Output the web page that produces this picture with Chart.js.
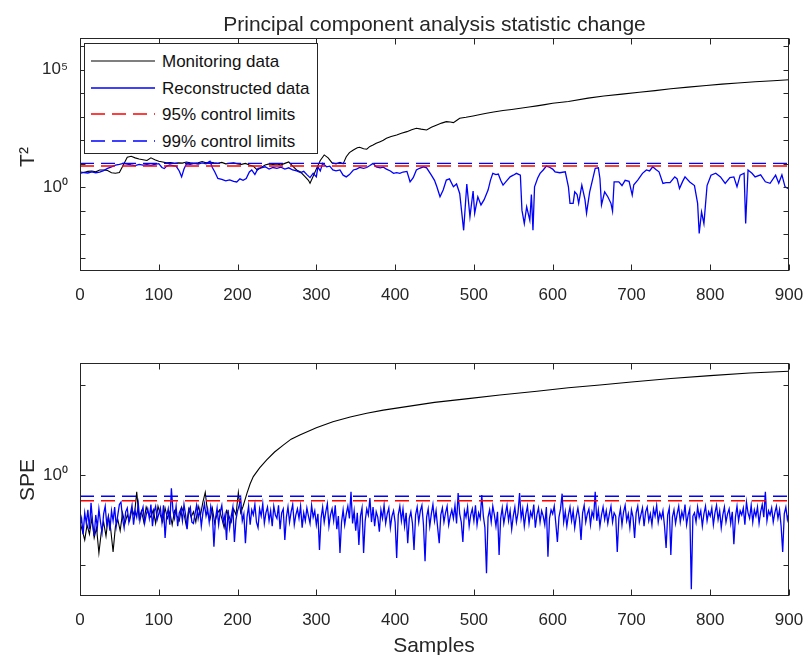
<!DOCTYPE html>
<html><head><meta charset="utf-8">
<script src="https://cdn.jsdelivr.net/npm/chart.js@4.4.0/dist/chart.umd.min.js"></script>
<style>
html,body{margin:0;padding:0;background:#fff;}
body{width:807px;height:655px;position:relative;overflow:hidden;font-family:"Liberation Sans",Arial,Helvetica,sans-serif;color:#262626;}
canvas{position:absolute;left:0;}
#c1{top:0;} #c2{top:320px;}
.txt{position:absolute;white-space:nowrap;line-height:1;}
.lg{position:absolute;white-space:nowrap;line-height:1;font-size:17px;color:#111;left:162px;}
</style></head><body>
<canvas id="c1" width="807" height="320"></canvas>
<canvas id="c2" width="807" height="335"></canvas>
<div class="txt" style="left:0;width:869px;text-align:center;top:12.9px;font-size:21px;">Principal component analysis statistic change</div>
<div class="txt" style="left:26px;top:157px;font-size:21px;transform:translate(-50%,-50%) rotate(-90deg);">T²</div>
<div class="txt" style="left:26px;top:480px;font-size:21px;transform:translate(-50%,-50%) rotate(-90deg);">SPE</div>
<div class="txt" style="left:0;width:868px;text-align:center;top:634px;font-size:21px;">Samples</div>
<div style="position:absolute;left:84px;top:43px;width:234px;height:111px;border:1px solid #262626;background:#fff;box-sizing:border-box;"></div>
<svg style="position:absolute;left:0;top:0;" width="807" height="200">
  <line x1="91" y1="61" x2="155" y2="61" stroke="#000" stroke-width="1.2"/>
  <line x1="91" y1="88" x2="155" y2="88" stroke="#0000ff" stroke-width="1.3"/>
  <line x1="91" y1="114" x2="155" y2="114" stroke="#ff0000" stroke-width="1.4" stroke-dasharray="14,7"/>
  <line x1="91" y1="141" x2="155" y2="141" stroke="#0000ff" stroke-width="1.4" stroke-dasharray="14,7"/>
</svg>
<div class="lg" style="top:52.7px;">Monitoring data</div>
<div class="lg" style="top:79.7px;">Reconstructed data</div>
<div class="lg" style="top:105.7px;">95% control limits</div>
<div class="lg" style="top:132.7px;">99% control limits</div>
<script>
// ---------- DATA ----------
const xTicks = [0,100,200,300,400,500,600,700,800,900];
const t2TickValues = [1e-3,1e-2,1e-1,1,10,100,1e3,1e4,1e5,1e6];
const t2TickLabels = {1:'10⁰', 100000:'10⁵'};
const speTickValues = [0.1,1,10];
const speTickLabels = {1:'10⁰'};
const t2Limit95 = 8.1, t2Limit99 = 10.5;
const speLimit95 = 0.518, speLimit99 = 0.58;

// T2 monitoring data [sample, value]
const t2Monitoring = [[0,4.5],[5,4.3],[10,4.8],[15,5.0],[20,4.6],[25,5.5],[30,5.5],[35,5.2],[40,4.2],[45,4.0],[50,4.3],[55,9],[60,19],[65,21],[70,18],[75,16],[80,15],[85,14],[90,18],[95,15],[100,13],[105,12],[110,11],[115,11.5],[120,10.5],[125,11],[130,10.8],[135,12],[140,11],[145,10.5],[150,11],[155,12.5],[160,11],[165,12],[170,11],[175,10.5],[180,11.5],[185,10],[190,10.5],[195,11],[200,10],[205,9.5],[210,10.5],[215,9],[220,8],[225,5.5],[230,7],[235,9],[240,10],[245,9.5],[250,10],[255,9],[260,10.5],[265,12],[270,8],[275,5.5],[280,4.5],[285,3],[290,2],[292,1.5],[295,2.5],[300,6],[305,14],[310,24],[315,18],[320,11],[325,10],[330,11.5],[334,10],[338,20],[342,30],[347,39],[352,48],[355,51],[360,44],[364,42],[368,55],[372,63],[376,75],[381,88],[385,100],[389,122],[395,145],[402,169],[408,200],[415,234],[421,280],[427,326],[433,300],[440,276],[446,360],[453,451],[459,540],[465,624],[470,600],[474,565],[478,700],[482,871],[490,960],[499,1090],[508,1250],[516,1420],[525,1600],[537,1840],[548,2050],[559,2320],[570,2600],[580,2910],[590,3300],[600,3790],[620,4500],[645,6200],[665,7600],[688,9180],[710,11000],[730,13000],[750,15500],[772,18200],[795,21500],[815,24500],[835,27500],[857,30700],[880,34000],[900,37300]];

// T2 reconstructed data [sample, value]
const t2Reconstructed = [[0,3.9],[5,4.3],[10,4.1],[15,4.6],[20,4.2],[25,4.5],[30,5.2],[35,6.4],[40,7.5],[45,8.9],[50,9.5],[55,10.4],[60,9.8],[65,9],[70,8.5],[75,9.5],[80,8.8],[85,9.2],[90,8.6],[95,9.5],[100,10.2],[104,7],[107,6.3],[110,8],[114,9],[118,8.5],[122,8],[126,5],[129,2.8],[132,6],[135,10],[140,9.5],[145,10.5],[150,9.8],[155,11],[160,10],[165,13],[168,7],[171,4.6],[175,2.4],[180,2.2],[185,1.9],[190,2.1],[195,1.8],[199,1.7],[203,2.3],[207,2.0],[211,2.4],[215,4.5],[218,5.5],[222,3.5],[226,6.4],[230,6.8],[235,7.5],[240,6],[245,7],[250,6.5],[255,7.2],[260,6],[265,6.8],[270,5.5],[275,5],[280,4.3],[284,4.8],[288,3.5],[292,2.6],[296,4],[300,2.8],[302,7.5],[305,5],[308,10.5],[313,7.5],[317,8],[321,5.5],[325,5],[330,5.5],[334,3.3],[338,2.8],[342,3.5],[347,5.5],[351,6],[355,7.1],[360,6.5],[364,7],[368,8.5],[372,10.5],[376,7.5],[381,6.8],[385,7.2],[389,6],[394,5],[398,3.95],[402,4.2],[406,3.95],[410,4.5],[415,4.8],[419,1.73],[423,2.6],[427,5.5],[431,6.5],[436,7.5],[440,6.8],[446,3.3],[450,2],[453,1.06],[457,0.40],[461,0.77],[465,2.05],[469,2.3],[474,1.06],[478,1.4],[482,0.55],[487,0.015],[491,1.4],[495,0.056],[499,0.7],[501,0.08],[505,0.4],[509,0.18],[513,0.3],[518,0.77],[521,2],[524,3.95],[528,3.5],[531,3.7],[534,2],[537,1.25],[541,1.8],[546,2.8],[550,3.3],[554,3.95],[559,3.3],[561,0.108],[564,0.029],[567,0.15],[571,0.04],[573,0.5],[575,0.015],[577,1.06],[581,2.5],[584,3.95],[588,5.5],[592,8.1],[596,7.2],[600,6],[603,4.6],[609,4.2],[616,4.6],[620,1.06],[622,0.21],[626,0.21],[628,0.65],[631,0.5],[633,0.21],[637,1.25],[641,0.3],[643,0.08],[647,0.65],[652,3.3],[654,6.4],[658,6.8],[660,2.4],[662,0.18],[666,0.65],[670,0.4],[674,0.21],[676,0.098],[678,1.73],[684,1.73],[688,1.2],[692,2],[697,1.8],[701,0.47],[703,1.3],[708,2.05],[714,3.95],[719,5.5],[723,5],[727,7.5],[731,5.8],[735,4.6],[740,1.48],[744,1.6],[749,1.6],[755,2.8],[758,2.3],[761,0.9],[765,1.8],[768,2.8],[774,1.7],[780,1.2],[784,0.21],[786,0.011],[789,0.09],[792,0.029],[796,1.2],[801,3.3],[807,4],[813,2.8],[819,1.48],[825,2.6],[830,2.8],[834,1.06],[838,3.3],[843,4],[845,0.029],[848,5.5],[853,4],[857,2.8],[864,3.4],[870,1.73],[876,1.5],[883,3.3],[887,1.5],[891,3.4],[895,1.06],[899,0.9],[900,1.2]];

// SPE monitoring data: noisy head every 3 samples from 0, then tail [sample, value]
const speMonStep = 3;
const speMonitoringHead = [0.3,0.24,0.19,0.28,0.22,0.33,0.2,0.26,0.136,0.23,
0.3,0.21,0.35,0.25,0.14,0.27,0.32,0.24,0.38,0.29,
0.36,0.31,0.42,0.35,0.65,0.33,0.4,0.3,0.44,0.37,
0.34,0.41,0.29,0.45,0.36,0.3,0.43,0.33,0.39,0.28,
0.4,0.35,0.31,0.44,0.37,0.27,0.42,0.34,0.39,0.3,
0.45,0.36,0.5,0.64,0.38,0.32,0.43,0.29,0.37,0.41,
0.33,0.26,0.4,0.35,0.3,0.42,0.36,0.64,0.38,0.45];
const speMonitoringTail = [[210,0.55],[212,0.63],[216,0.8],[220,0.96],[228,1.2],[237,1.47],[247,1.8],[258,2.15],[268,2.5],[279,2.78],[300,3.35],[321,3.9],[343,4.4],[364,4.85],[385,5.25],[406,5.6],[450,6.4],[490,7.0],[533,7.74],[580,8.5],[620,9.3],[660,10],[700,10.8],[750,11.8],[800,12.7],[850,13.6],[900,14.2]];

// SPE reconstructed data, every 2 samples from 0
const speRecStep = 2;
const speReconstructed = [
0.27,0.33,0.22,0.38,0.29,0.41,0.25,0.49,0.3,0.21,
0.36,0.26,0.42,0.3,0.23,0.37,0.45,0.28,0.34,0.24,
0.4,0.31,0.44,0.27,0.36,0.47,0.5,0.33,0.26,0.39,
0.43,0.3,0.37,0.46,0.28,0.4,0.34,0.48,0.31,0.38,
0.44,0.29,0.36,0.42,0.33,0.47,0.27,0.39,0.45,0.32,
0.37,0.43,0.3,0.46,0.2,0.35,0.42,0.28,0.71,0.4,
0.33,0.45,0.27,0.38,0.42,0.31,0.47,0.36,0.25,0.4,
0.44,0.3,0.29,0.37,0.46,0.33,0.41,0.27,0.38,0.48,
0.35,0.42,0.3,0.45,0.37,0.16,0.33,0.43,0.28,0.39,
0.46,0.3,0.36,0.19,0.41,0.26,0.35,0.44,0.18,0.32,
0.4,0.46,0.55,0.31,0.37,0.175,0.34,0.45,0.28,0.41,
0.36,0.47,0.3,0.26,0.42,0.35,0.48,0.29,0.38,0.44,
0.31,0.4,0.27,0.45,0.36,0.33,0.46,0.25,0.38,0.42,
0.19,0.34,0.44,0.3,0.39,0.47,0.28,0.36,0.42,0.33,
0.45,0.26,0.38,0.31,0.43,0.35,0.29,0.46,0.34,0.4,
0.28,0.37,0.147,0.33,0.44,0.3,0.39,0.48,0.27,0.36,
0.42,0.31,0.46,0.25,0.35,0.136,0.3,0.41,0.28,0.37,
0.45,0.33,0.65,0.29,0.4,0.24,0.38,0.167,0.35,0.43,
0.136,0.31,0.42,0.36,0.555,0.3,0.44,0.27,0.39,0.34,
0.235,0.41,0.33,0.46,0.29,0.37,0.43,0.26,0.35,0.4,
0.3,0.12,0.36,0.45,0.31,0.42,0.27,0.38,0.175,0.33,
0.39,0.29,0.147,0.36,0.44,0.3,0.4,0.46,0.28,0.11,
0.34,0.42,0.27,0.37,0.47,0.31,0.4,0.26,0.175,0.36,
0.43,0.3,0.38,0.45,0.28,0.35,0.41,0.33,0.46,0.29,
0.63,0.37,0.3,0.18,0.4,0.34,0.44,0.27,0.36,0.42,
0.31,0.46,0.28,0.38,0.33,0.6,0.35,0.26,0.081,0.34,
0.41,0.3,0.45,0.36,0.27,0.39,0.129,0.33,0.43,0.29,
0.37,0.46,0.31,0.4,0.25,0.35,0.44,0.3,0.38,0.63,
0.33,0.42,0.27,0.37,0.45,0.29,0.39,0.34,0.47,0.26,
0.36,0.43,0.3,0.4,0.35,0.28,0.44,0.124,0.33,0.41,
0.37,0.45,0.29,0.18,0.34,0.42,0.62,0.3,0.39,0.27,
0.36,0.44,0.31,0.4,0.26,0.35,0.43,0.33,0.19,0.38,
0.46,0.3,0.37,0.42,0.28,0.39,0.34,0.65,0.31,0.41,
0.27,0.36,0.44,0.32,0.4,0.29,0.37,0.45,0.3,0.38,
0.35,0.14,0.33,0.42,0.28,0.39,0.46,0.31,0.37,0.26,
0.41,0.34,0.2,0.38,0.45,0.3,0.36,0.43,0.27,0.39,
0.44,0.31,0.37,0.28,0.42,0.35,0.46,0.3,0.38,0.33,
0.4,0.27,0.155,0.36,0.43,0.129,0.34,0.41,0.29,0.37,
0.45,0.3,0.39,0.33,0.47,0.28,0.36,0.42,0.054,0.35,
0.38,0.3,0.44,0.34,0.4,0.27,0.37,0.45,0.31,0.39,
0.35,0.43,0.28,0.38,0.46,0.32,0.4,0.26,0.36,0.44,
0.3,0.37,0.42,0.29,0.39,0.17,0.34,0.45,0.31,0.4,
0.36,0.43,0.28,0.5,0.38,0.33,0.46,0.3,0.41,0.35,
0.44,0.29,0.39,0.47,0.34,0.65,0.31,0.4,0.36,0.43,
0.3,0.38,0.45,0.33,0.41,0.27,0.14,0.37,0.44,0.32,
0.38];

// ---------- CHART ----------
const FONT = '"Liberation Sans", Arial, Helvetica, sans-serif';
const TXT = '#262626';
const pairs = a => a.map(p => ({x:p[0], y:p[1]}));
const stepped = (a, step) => a.map((v,i) => ({x:i*step, y:v}));
const flat = v => [{x:0,y:v},{x:900,y:v}];

const boxPlugin = {
  id:'boxTicks',
  afterDraw(chart){
    const {ctx, chartArea:a, scales:{x, y}} = chart;
    const L = Math.round(a.left)+0.5, R = Math.round(a.right)-0.5, T = Math.round(a.top)+0.5, B = Math.round(a.bottom)-0.5;
    ctx.save();
    ctx.strokeStyle = TXT; ctx.lineWidth = 1;
    ctx.beginPath();
    x.ticks.forEach(t => { const px = Math.round(x.getPixelForValue(t.value))+0.5;
      ctx.moveTo(px,B); ctx.lineTo(px,B-6); ctx.moveTo(px,T); ctx.lineTo(px,T+6); });
    y.ticks.forEach(t => { const py = Math.round(y.getPixelForValue(t.value))+0.5;
      ctx.moveTo(L,py); ctx.lineTo(L+5,py); ctx.moveTo(R,py); ctx.lineTo(R-5,py); });
    ctx.stroke();
    ctx.strokeRect(L, T, R-L, B-T);
    ctx.restore();
  }
};

function makeChart(id, datasets, yMin, yMax, tickVals, tickLabels, padTop, xHeight){
  return new Chart(document.getElementById(id), {
    type:'line',
    data:{datasets},
    options:{
      responsive:false, animation:false, devicePixelRatio:1,
      layout:{padding:{left:0, right:18, top:padTop, bottom:0}},
      plugins:{legend:{display:false}, tooltip:{enabled:false}},
      elements:{point:{radius:0}, line:{tension:0}},
      scales:{
        x:{type:'linear', min:0, max:900,
           grid:{display:false, drawTicks:false}, border:{display:false},
           afterBuildTicks: s => { s.ticks = xTicks.map(v => ({value:v})); },
           afterFit: s => { s.height = xHeight; s.paddingLeft = 0; s.paddingRight = 0; },
           ticks:{autoSkip:false, maxRotation:0, padding:14, color:TXT, font:{family:FONT, size:17}}},
        y:{type:'logarithmic', min:yMin, max:yMax,
           grid:{display:false, drawTicks:false}, border:{display:false},
           afterBuildTicks: s => { s.ticks = tickVals.map(v => ({value:v})); },
           afterFit: s => { s.width = 80; s.paddingTop = 0; s.paddingBottom = 0; },
           ticks:{autoSkip:false, padding:12, color:TXT, font:{family:FONT, size:17},
                  callback: v => tickLabels[v] || ''}}
      }
    },
    plugins:[boxPlugin]
  });
}

makeChart('c1', [
  {data:pairs(t2Monitoring), borderColor:'#000000', borderWidth:1.1, order:4},
  {data:pairs(t2Reconstructed), borderColor:'#0000ff', borderWidth:1.3, order:3},
  {data:flat(t2Limit95), borderColor:'#ff0000', borderWidth:1.4, borderDash:[14,7], order:2},
  {data:flat(t2Limit99), borderColor:'#0000ff', borderWidth:1.4, borderDash:[14,7], order:1}
], Math.pow(10,-3.553), Math.pow(10,6.349), t2TickValues, t2TickLabels, 38, 49);

makeChart('c2', [
  {data:stepped(speMonitoringHead, speMonStep).concat(pairs(speMonitoringTail)), borderColor:'#000000', borderWidth:1.1, order:4},
  {data:stepped(speReconstructed, speRecStep), borderColor:'#0000ff', borderWidth:1.3, order:3},
  {data:flat(speLimit95), borderColor:'#ff0000', borderWidth:1.4, borderDash:[14,7], order:2},
  {data:flat(speLimit99), borderColor:'#0000ff', borderWidth:1.4, borderDash:[14,7], order:1}
], Math.pow(10,-1.344), Math.pow(10,1.244), speTickValues, speTickLabels, 43, 59);
</script>
</body></html>
